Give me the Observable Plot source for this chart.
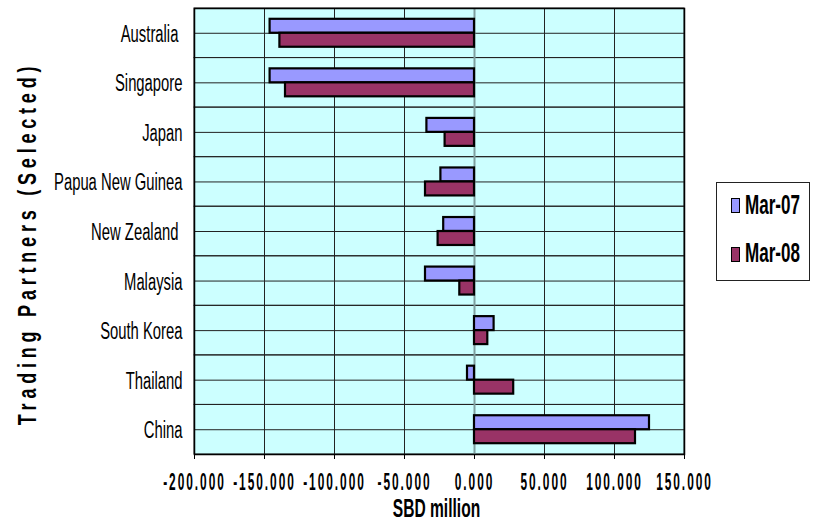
<!DOCTYPE html>
<html><head><meta charset="utf-8">
<script src="https://cdn.jsdelivr.net/npm/d3@7"></script>
<script src="https://cdn.jsdelivr.net/npm/@observablehq/plot@0.6"></script>
<style>
body{margin:0;background:#fff;}
#wrap{position:relative;width:817px;height:522px;overflow:hidden;background:#fff;}
.lg{position:absolute;left:716px;top:182px;width:94px;height:99px;border:1px solid #222;box-sizing:border-box;background:#fff}
.sw{position:absolute;width:9px;height:15px;border:1px solid #000;box-sizing:border-box}
.lt{position:absolute;font-family:"Liberation Sans",Arial,sans-serif;font-weight:bold;font-size:20.8px;line-height:20.8px;height:20.8px;white-space:nowrap;transform:scale(0.82,1.36);transform-origin:0 50%;color:#000}
</style></head><body><div id="wrap"></div>
<script>
const countries = ["Australia ","Singapore","Japan","Papua New Guinea","New Zealand ","Malaysia","South Korea","Thailand","China"];
const mar07 = [-146, -146, -34, -24, -22, -35, 14, -5, 125];
const mar08 = [-139, -135, -21, -35, -26, -10.5, 9.5, 28, 115];
const xTicks = [-200, -150, -100, -50, 0, 50, 100, 150];
const series = ["Mar-07", "Mar-08"];
const colors = ["#9999ff", "#993366"];

const rows = countries.map((c, i) => ({country: c, v07: mar07[i], v08: mar08[i]}));
const FONT = '"Liberation Sans", Arial, sans-serif';

const chart = Plot.plot({
  width: 817, height: 522,
  marginLeft: 194, marginRight: 133, marginTop: 8, marginBottom: 68,
  style: {background: "#fff", fontFamily: FONT, color: "#000"},
  x: {domain: [-200, 150]},
  y: {domain: countries, type: "band", padding: 0, round: false, axis: null},
  marks: [
    Plot.frame({fill: "#ccffff", stroke: null}),
    Plot.ruleX(xTicks, {x: d => d, stroke: "#222", strokeWidth: 1}),
    Plot.barX(rows, {y: "country", x1: -200, x2: 150, fill: "none", stroke: "#222", strokeWidth: 1}),
    Plot.ruleY(rows, {y: "country", stroke: "#222", strokeWidth: 1}),
    Plot.ruleX([0], {x: d => d, stroke: "#7f9f9f", strokeWidth: 2}),
    Plot.barX(rows, {y: "country", x: "v07", fill: colors[0], stroke: "#000", strokeWidth: 2.2, insetTop: 10.8, insetBottom: 24.8}),
    Plot.barX(rows, {y: "country", x: "v08", fill: colors[1], stroke: "#000", strokeWidth: 2.2, insetTop: 24.8, insetBottom: 10.8}),
    Plot.frame({stroke: "#000", strokeWidth: 1.5}),
    Plot.axisX({ticks: xTicks, tickSize: 5, tickFormat: () => "", label: null, stroke: "#000"}),
    Plot.text(xTicks, {x: d => d, text: d => d.toFixed(3), frameAnchor: "bottom", lineAnchor: "top", textAnchor: "middle", dy: 19, fontSize: 14.5, fontWeight: "bold", fill: "#000", ariaDescription: "xtick"}),
    Plot.text(countries, {y: d => d, text: d => d, frameAnchor: "left", textAnchor: "end", dx: -12, dy: 1, fontSize: 19.5, fill: "#000", ariaDescription: "ytick"}),
    Plot.text(["SBD million"], {text: d => d, frameAnchor: "bottom", lineAnchor: "top", textAnchor: "middle", dy: 44, dx: -3, fontSize: 19, fontWeight: "bold", fill: "#000", ariaDescription: "xtitle"}),
    Plot.text(["Trading Partners (Selected)"], {text: d => d, frameAnchor: "left", textAnchor: "middle", rotate: -90, dx: -167, dy: 12, fontSize: 18, fontWeight: "bold", fill: "#000", ariaDescription: "ytitle"})
  ]
});

function stretch(desc, sx, sy, spacing) {
  const g = d3.select(chart).selectAll(`g[aria-description="${desc}"]`);
  if (spacing != null) g.style("letter-spacing", spacing + "px");
  g.style("white-space", "pre");
  g.selectAll("text").each(function() {
    const t = this.getAttribute("transform") || "";
    this.setAttribute("transform", t + ` scale(${sx},${sy})`);
  });
}
stretch("xtick", 0.82, 1.64, 2.4);
stretch("ytick", 0.76, 1.2, 0);
stretch("xtitle", 0.82, 1.38, 0);
stretch("ytitle", 1, 1.4, 4.8);

const wrap = document.getElementById("wrap");
wrap.appendChild(chart);
const lg = document.createElement("div");
lg.className = "lg";
wrap.appendChild(lg);
series.forEach((s, i) => {
  const sw = document.createElement("div");
  sw.className = "sw";
  sw.style.left = "731px";
  sw.style.top = (198 + i * 48.5) + "px";
  sw.style.background = colors[i];
  wrap.appendChild(sw);
  const lt = document.createElement("span");
  lt.className = "lt";
  lt.style.left = "745px";
  lt.style.top = (195 + i * 48) + "px";
  lt.textContent = s;
  wrap.appendChild(lt);
});
</script></body></html>
